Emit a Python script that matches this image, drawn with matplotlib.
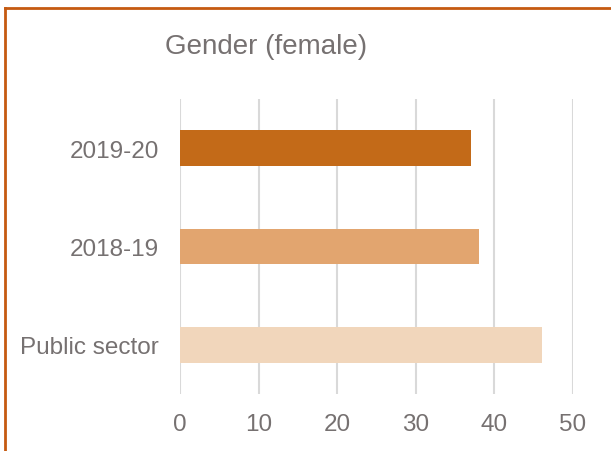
import matplotlib.pyplot as plt
from matplotlib.lines import Line2D

categories = ['Public sector', '2018-19', '2019-20']
values = [46, 38, 37]
colors = ['#F1D6BB', '#E2A56F', '#C36A18']
xticks = [0, 10, 20, 30, 40, 50]

plt.rcParams['font.family'] = ['Liberation Sans', 'DejaVu Sans']

W, H = 611, 452
fig = plt.figure(figsize=(W / 100, H / 100), dpi=100)
ax = fig.add_axes([180 / W, 1 - 395 / H, (573 - 180) / W, (395 - 100) / H])

ax.barh(range(len(categories)), values, height=0.36, color=colors, zorder=3)
ax.set_xlim(0, 50)
ax.set_ylim(-0.5, 2.5)
ax.set_xticks(xticks)
ax.set_yticks(range(len(categories)))
ax.set_yticklabels(categories)
ax.grid(axis='x', color='#D9D9D9', linewidth=1.5, zorder=0)
for s in ax.spines.values():
    s.set_visible(False)
ax.tick_params(length=0, labelsize=17.5, labelcolor='#767171')
ax.tick_params(axis='x', pad=14)
ax.tick_params(axis='y', pad=15)

fig.text(266 / W, 1 - 47 / H, 'Gender (female)', ha='center', va='center',
         fontsize=20, color='#767171')

# orange frame (left and top edges visible)
fig.add_artist(Line2D([5 / W, 5 / W], [0, 1 - 9 / H], color='#C55A11', linewidth=2,
                      transform=fig.transFigure))
fig.add_artist(Line2D([5 / W, 1], [1 - 9 / H, 1 - 9 / H], color='#C55A11', linewidth=2,
                      transform=fig.transFigure))

fig.savefig('out.png', dpi=100)
